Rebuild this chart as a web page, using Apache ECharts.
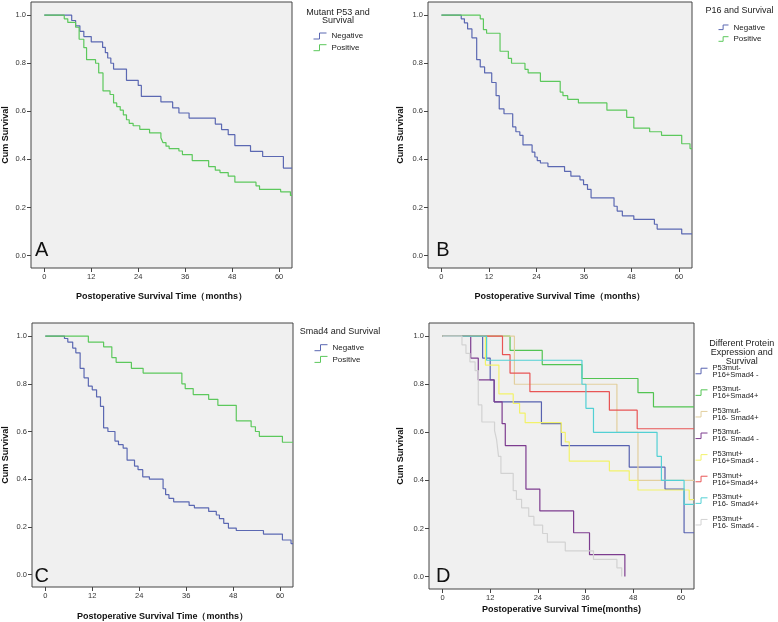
<!DOCTYPE html>
<html>
<head>
<meta charset="utf-8">
<script src="https://cdn.jsdelivr.net/npm/echarts@6/dist/echarts.min.js"></script>
<style>
html,body{margin:0;padding:0;background:#fff;}
#main{width:778px;height:622px;}
</style>
</head>
<body>
<div id="main"></div>
<script>
// ---------- tick labels ----------
const X_TICKS = [0, 12, 24, 36, 48, 60];
const Y_TICKS = [0, 0.2, 0.4, 0.6, 0.8, 1.0];

// ---------- Panel A: Mutant P53 ----------
const A_NEG = [[0,1],[7.0,0.978],[8.0,0.956],[9.1,0.933],[10.1,0.911],[12.0,0.889],[14.9,0.866],[15.6,0.844],[16.2,0.822],[17.0,0.80],[17.7,0.776],[21.0,0.729],[24.0,0.708],[24.8,0.662],[29.8,0.639],[32.8,0.614],[34.4,0.593],[37.0,0.572],[43.7,0.547],[45.3,0.524],[47.0,0.503],[48.7,0.457],[52.7,0.433],[55.8,0.412],[61.1,0.364],[63.3,0.364]];
const A_POS = [[0,1],[5.1,0.985],[6.0,0.97],[8.0,0.95],[8.9,0.90],[10.1,0.865],[10.8,0.815],[13.1,0.80],[13.9,0.76],[15.0,0.685],[16.8,0.67],[17.7,0.635],[18.5,0.62],[19.4,0.605],[20.2,0.585],[21.0,0.565],[21.7,0.55],[22.7,0.54],[24.4,0.525],[26.9,0.51],[29.8,0.49],[30.3,0.47],[31.1,0.455],[31.9,0.445],[34.4,0.435],[35.3,0.42],[37.8,0.395],[42.0,0.37],[43.7,0.355],[44.9,0.345],[47.0,0.33],[48.7,0.305],[54.1,0.29],[55.0,0.275],[60.4,0.265],[62.9,0.25],[63.3,0.25]];

// ---------- Panel B: P16 ----------
const B_NEG = [[0,1],[5.0,0.985],[5.8,0.968],[6.6,0.943],[7.7,0.906],[8.9,0.815],[9.8,0.785],[10.9,0.76],[12.7,0.72],[13.8,0.665],[14.6,0.61],[15.8,0.59],[18.0,0.535],[18.8,0.515],[19.8,0.50],[20.6,0.46],[22.9,0.43],[23.6,0.41],[24.2,0.395],[25.0,0.385],[26.9,0.37],[31.1,0.35],[32.7,0.33],[35.0,0.315],[35.9,0.295],[36.9,0.275],[37.8,0.24],[43.6,0.205],[44.4,0.185],[45.7,0.165],[48.6,0.15],[53.8,0.13],[54.5,0.11],[60.7,0.09],[63.3,0.09]];
const B_POS = [[0,1],[9.8,0.985],[10.6,0.94],[11.4,0.925],[14.8,0.85],[16.9,0.82],[17.7,0.80],[21.1,0.775],[21.9,0.76],[25.0,0.725],[30.0,0.68],[30.7,0.665],[31.9,0.65],[34.6,0.635],[41.8,0.605],[46.8,0.575],[48.6,0.53],[52.6,0.515],[55.6,0.50],[60.7,0.465],[62.8,0.445],[63.3,0.445]];

// ---------- Panel C: Smad4 ----------
const C_NEG = [[0,1],[4.9,0.99],[5.75,0.975],[7.0,0.95],[7.8,0.93],[8.9,0.865],[9.9,0.825],[11.0,0.79],[12.0,0.775],[13.1,0.745],[14.1,0.705],[14.9,0.615],[16.0,0.60],[17.8,0.56],[18.7,0.545],[19.9,0.53],[20.9,0.48],[22.8,0.455],[23.7,0.44],[24.9,0.41],[26.6,0.40],[30.1,0.36],[30.75,0.335],[31.6,0.32],[32.8,0.305],[36.75,0.29],[38.1,0.28],[41.75,0.265],[43.7,0.25],[44.5,0.235],[45.6,0.215],[46.8,0.195],[48.8,0.185],[55.75,0.17],[60.6,0.145],[62.8,0.13],[63.3,0.13]];
const C_POS = [[0,1],[11.0,0.975],[14.9,0.955],[17.0,0.91],[18.1,0.89],[22.0,0.865],[25.0,0.845],[34.9,0.80],[35.75,0.78],[37.8,0.755],[41.75,0.735],[44.1,0.71],[48.8,0.645],[52.6,0.62],[53.7,0.60],[54.7,0.58],[60.6,0.555],[63.3,0.555]];

// ---------- Panel D: combined groups ----------
const D_NAMES = ['P53mut-\nP16+Smad4 -','P53mut-\nP16+Smad4+','P53mut-\nP16- Smad4+','P53mut-\nP16- Smad4 -','P53mut+\nP16+Smad4 -','P53mut+\nP16+Smad4+','P53mut+\nP16- Smad4+','P53mut+\nP16- Smad4 -'];
const D1 = [[0,1],[10.1,0.909],[12.0,0.818],[13.0,0.727],[24.9,0.636],[29.9,0.545],[47.0,0.455],[56.0,0.364],[60.8,0.182],[63.3,0.182]];
const D2 = [[0,1],[17.0,0.941],[25.1,0.882],[35.1,0.824],[49.2,0.765],[53.1,0.706],[63.3,0.706]];
const D3 = [[0,1],[18.1,0.80],[43.9,0.60],[49.2,0.40],[63.3,0.40]];
const D4 = [[0,1],[7.1,0.909],[9.0,0.818],[13.0,0.727],[15.0,0.636],[15.8,0.545],[21.0,0.364],[24.5,0.273],[33.0,0.182],[37.0,0.091],[45.9,0]];
const D5 = [[0,1],[10.8,0.88],[14.2,0.76],[17.8,0.72],[19.4,0.68],[20.8,0.64],[29.9,0.60],[30.9,0.56],[31.9,0.48],[42.0,0.44],[47.0,0.40],[49.2,0.36],[62.1,0.32],[63.3,0.32]];
const D6 = [[0,1],[15.1,0.923],[17.0,0.846],[22.0,0.769],[42.0,0.692],[49.0,0.615],[63.3,0.615]];
const D7 = [[0,1],[11.1,0.90],[35.1,0.80],[36.1,0.70],[38.0,0.60],[54.0,0.50],[55.1,0.40],[60.8,0.30],[63.3,0.30]];
const D8 = [[0,1],[4.9,0.964],[5.9,0.929],[6.9,0.893],[8.2,0.857],[9.0,0.714],[9.9,0.643],[13.1,0.607],[13.6,0.571],[14.1,0.5],[14.7,0.429],[17.8,0.357],[18.6,0.321],[19.9,0.286],[21.7,0.25],[23.0,0.214],[25.2,0.179],[26.4,0.143],[30.9,0.107],[38.0,0.071],[43.9,0.036],[45.1,0]];
const D_DATA = [D1, D2, D3, D4, D5, D6, D7, D8];

// ---------- styles ----------
const FONT = '"Liberation Sans", Arial, sans-serif';
const NEG_COLOR = '#5b68b2';
const POS_COLOR = '#5cc85c';
const D_COLORS = ['#5762b0','#52c452','#e2cf9e','#7d3c8f','#f2f26a','#e85555','#52d0d4','#d2d2d2'];
const STEP_ICON = 'path://M0,6 L6,6 L6,0 L13,0';
const XMIN = -3.4, XMAX = 63.3, YMIN = -0.052, YMAX = 1.055;

const grids = [
  {left: 26, top: 2, width: 266, height: 266},
  {left: 428, top: 2, width: 264, height: 266},
  {left: 27, top: 323, width: 266, height: 266},
  {left: 429, top: 323, width: 265, height: 266}
].map(g => Object.assign(g, {show: true, backgroundColor: '#f0f0f0', borderColor: '#444', borderWidth: 1}));

const xNames = ['Postoperative Survival Time\uff08months\uff09','Postoperative Survival Time\uff08months\uff09','Postoperative Survival Time\uff08months\uff09','Postoperative Survival Time(months)'];
const xGaps = [24, 24, 25, 16];
const yGaps = [21, 23, 22, 24];

const xAxes = grids.map((g, i) => ({
  type: 'value', gridIndex: i, min: XMIN, max: XMAX,
  name: xNames[i], nameLocation: 'middle', nameGap: xGaps[i],
  nameTextStyle: {fontFamily: FONT, fontWeight: 'bold', fontSize: 9, color: '#111'},
  axisLine: {show: false, onZero: false},
  splitLine: {show: false},
  axisTick: {show: true, length: 4, customValues: X_TICKS, lineStyle: {color: '#444'}},
  axisLabel: {customValues: X_TICKS, fontFamily: FONT, fontSize: 7.5, color: '#333', margin: 5}
}));
const yAxes = grids.map((g, i) => ({
  type: 'value', gridIndex: i, min: YMIN, max: YMAX,
  name: 'Cum Survival', nameLocation: 'middle', nameGap: yGaps[i], nameRotate: 90,
  nameTextStyle: {fontFamily: FONT, fontWeight: 'bold', fontSize: 9, color: '#111'},
  axisLine: {show: false, onZero: false},
  splitLine: {show: false},
  axisTick: {show: true, length: 4, customValues: Y_TICKS, lineStyle: {color: '#444'}},
  axisLabel: {customValues: Y_TICKS, fontFamily: FONT, fontSize: 7.5, color: '#333', margin: 5,
              formatter: v => v.toFixed(1)}
}));

function km(name, data, gi, color) {
  return {
    type: 'line', name, data, xAxisIndex: gi, yAxisIndex: gi,
    step: 'end', symbol: 'none', showSymbol: false, color,
    lineStyle: {width: 1.2, color}, animation: false, silent: true
  };
}
const series = [
  km('Negative', A_NEG, 0, NEG_COLOR), km('Positive', A_POS, 0, POS_COLOR),
  km('Negative', B_NEG, 1, NEG_COLOR), km('Positive', B_POS, 1, POS_COLOR),
  km('Negative', C_NEG, 2, NEG_COLOR), km('Positive', C_POS, 2, POS_COLOR)
];
D_DATA.forEach((d, i) => series.push(km(D_NAMES[i], d, 3, D_COLORS[i])));

function legendItem(name, color) {
  return {name, icon: STEP_ICON, itemStyle: {color: 'rgba(0,0,0,0)', borderColor: color, borderWidth: 1}};
}
function npLegend(left, top, iw) {
  return {
    orient: 'vertical', left, top, itemWidth: iw, itemHeight: 6, itemGap: 3.7,
    selectedMode: false, padding: 0,
    textStyle: {fontFamily: FONT, fontSize: 8, color: '#222', lineHeight: 8},
    data: [legendItem('Negative', NEG_COLOR), legendItem('Positive', POS_COLOR)]
  };
}
const legends = [
  npLegend(313, 32, 13),
  npLegend(718, 23.3, 10),
  npLegend(314, 343.7, 13),
  {
    orient: 'vertical', left: 695, top: 363.5, itemWidth: 12, itemHeight: 6, itemGap: 6.6,
    selectedMode: false, padding: 0,
    textStyle: {fontFamily: FONT, fontSize: 7.5, color: '#222', lineHeight: 7},
    data: D_NAMES.map((n, i) => legendItem(n, D_COLORS[i]))
  }
];

function txt(text, x, y, size, lh) {
  return {type: 'text', x, y, silent: true,
    style: {text, fontFamily: FONT, fontSize: size, fill: '#222', align: 'center', verticalAlign: 'middle', lineHeight: lh}};
}
const graphics = [
  txt('Mutant P53 and\nSurvival', 338, 16.5, 9, 8.5),
  txt('P16 and Survival', 739.5, 11, 9, 9),
  txt('Smad4 and Survival', 340, 332, 9, 9),
  txt('Different Protein\nExpression and\nSurvival', 741.7, 352.3, 9, 8.8),
  txt('A', 41.7, 250, 20, 20),
  txt('B', 443, 250, 20, 20),
  txt('C', 41.7, 576, 20, 20),
  txt('D', 443.3, 576, 20, 20)
];
graphics.slice(4).forEach(g => { g.style.fill = '#111'; });

const chart = echarts.init(document.getElementById('main'), null, {renderer: 'canvas'});
chart.setOption({
  backgroundColor: '#ffffff',
  animation: false,
  grid: grids,
  xAxis: xAxes,
  yAxis: yAxes,
  legend: legends,
  series,
  graphic: graphics
});
</script>
</body>
</html>
